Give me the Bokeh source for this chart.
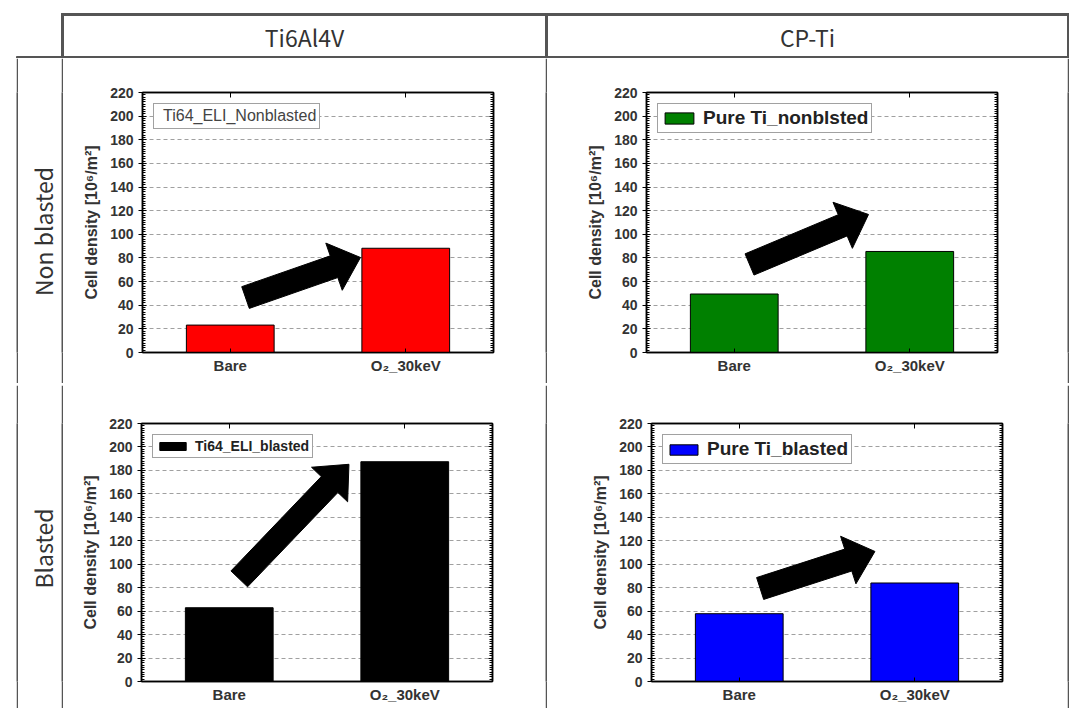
import math
from bokeh.plotting import figure
from bokeh.models import Range1d, FixedTicker, LinearAxis, Legend, LegendItem
from bokeh.layouts import column, row
from bokeh.embed import file_html
from bokeh.resources import INLINE
from bokeh.core.properties import value

# ---------------- data ----------------
categories = ["Bare", "O₂_30keV"]
ti64_nonblasted = [23.2, 88.2]
pureti_nonblasted = [49.5, 85.5]
ti64_blasted = [62.9, 187.4]
pureti_blasted = [57.8, 84.0]
y_ticks = list(range(0, 221, 20))
y_minor_ticks = list(range(0, 221, 2))
col_headers = ["Ti6Al4V", "CP-Ti"]
row_headers = ["Non blasted", "Blasted"]
legend_labels = ["Ti64_ELI_Nonblasted", "Pure Ti_nonblsted", "Ti64_ELI_blasted", "Pure Ti_blasted"]
y_label = "Cell density [10⁶/m²]"
# annotation arrows: tail (x, y) and tip (x, y) in data units
arrow_tl = [(1.087, 46.5), (1.742, 80.4)]
arrow_tr = [(1.087, 74.5), (1.765, 116.8)]
arrow_bl = [(1.057, 87.5), (1.682, 185.2)]
arrow_br = [(1.119, 79.3), (1.773, 110.9)]

LINE = "#555555"
TXT = "#333333"
AX_FONT = "Liberation Sans"
HEAD_FONT = "Noto Sans CJK KR"


def block(w, h, color):
    return figure(width=w, height=h, x_axis_type=None, y_axis_type=None, toolbar_location=None,
                  output_backend="svg", min_border=0, outline_line_color=None,
                  background_fill_color=color, border_fill_color=color)


def arrow_patch(tail, tip, sx, sy, shaft=23.0, head_w=50.0, head_len=28.0):
    x0, y0 = tail[0] * sx, tail[1] * sy
    x1, y1 = tip[0] * sx, tip[1] * sy
    dx, dy = x1 - x0, y1 - y0
    L = math.hypot(dx, dy)
    ux, uy = dx / L, dy / L
    nx, ny = -uy, ux
    w, h = shaft / 2, head_w / 2
    bx, by = x1 - ux * head_len, y1 - uy * head_len
    pts = [(x0 + nx * w, y0 + ny * w), (bx + nx * w, by + ny * w), (bx + nx * h, by + ny * h),
           (x1, y1), (bx - nx * h, by - ny * h), (bx - nx * w, by - ny * w), (x0 - nx * w, y0 - ny * w)]
    return [q[0] / sx for q in pts], [q[1] / sy for q in pts]


def chart(vals, color, label, arrow, lb, fw, rb, tb, fh, bb,
          swatch=True, leg_bold=True, leg_size="18px", gw=36, gh=14, lstand=6, pad=3,
          leg_color="#222222"):
    xs = [i + 1 for i in range(len(categories))]
    p = figure(frame_width=fw, frame_height=fh, min_border_left=lb, min_border_right=rb,
               min_border_top=tb, min_border_bottom=bb,
               x_range=Range1d(0.5, len(categories) + 0.5), y_range=Range1d(y_ticks[0], y_ticks[-1]),
               toolbar_location=None, output_backend="svg",
               background_fill_color="white", border_fill_color="white",
               outline_line_color="black", outline_line_width=1.5)
    p.xgrid.visible = False
    p.ygrid.ticker = FixedTicker(ticks=y_ticks[1:-1])
    p.ygrid.grid_line_color = "#a0a0a0"
    p.ygrid.grid_line_dash = "4 3"
    p.ygrid.grid_line_width = 1

    ya = p.yaxis[0]
    ya.ticker = FixedTicker(ticks=y_ticks, minor_ticks=y_minor_ticks)
    ya.major_tick_in = 4
    ya.major_tick_out = 4
    ya.minor_tick_in = 3
    ya.minor_tick_out = 0
    ya.major_label_standoff = 5
    ya.major_label_text_font = AX_FONT
    ya.major_label_text_font_style = "bold"
    ya.major_label_text_font_size = "14px"
    ya.major_label_text_color = TXT
    ya.axis_label = y_label
    ya.axis_label_text_font = AX_FONT
    ya.axis_label_text_font_style = "bold"
    ya.axis_label_text_font_size = "16px"
    ya.axis_label_text_color = TXT
    ya.axis_label_standoff = 7
    ya.axis_line_width = 1.5

    xa = p.xaxis[0]
    xa.ticker = FixedTicker(ticks=xs)
    xa.major_label_overrides = {x: c for x, c in zip(xs, categories)}
    xa.major_tick_in = 4
    xa.major_tick_out = 0
    xa.minor_tick_in = 0
    xa.minor_tick_out = 0
    xa.major_label_standoff = 4
    xa.major_label_text_font = AX_FONT
    xa.major_label_text_font_style = "bold"
    xa.major_label_text_font_size = "15px"
    xa.major_label_text_color = TXT
    xa.axis_line_width = 1.5

    ra = LinearAxis(ticker=FixedTicker(ticks=y_ticks, minor_ticks=y_minor_ticks),
                    major_label_overrides={t: "" for t in y_ticks},
                    major_tick_in=4, major_tick_out=0, minor_tick_in=3, minor_tick_out=0,
                    major_label_standoff=0, axis_line_width=1.5)
    p.add_layout(ra, "right")
    ta = LinearAxis(ticker=FixedTicker(ticks=xs),
                    major_label_overrides={x: "" for x in xs},
                    major_tick_in=5, major_tick_out=0, minor_tick_in=0, minor_tick_out=0,
                    major_label_standoff=0, axis_line_width=1.5)
    p.add_layout(ta, "above")

    bars = p.vbar(x=xs, top=vals, width=0.5, fill_color=color, line_color="black", line_width=1)

    if swatch:
        leg_r = bars
    else:
        leg_r = p.vbar(x=[], top=[], width=0.5, fill_alpha=0, line_alpha=0)
    leg = Legend(items=[LegendItem(label=label, renderers=[leg_r])], location="top_left",
                 margin=11, padding=pad, spacing=0, glyph_width=gw, glyph_height=gh,
                 label_standoff=lstand, label_height=10,
                 label_text_font=AX_FONT, label_text_font_style="bold" if leg_bold else "normal",
                 label_text_font_size=leg_size, label_text_color=leg_color,
                 border_line_color="#444444", border_line_width=1,
                 background_fill_color="white", background_fill_alpha=1)
    p.add_layout(leg)

    sx = fw / len(categories)
    sy = fh / (y_ticks[-1] - y_ticks[0])
    ax_, ay_ = arrow_patch(arrow[0], arrow[1], sx, sy)
    p.patch(ax_, ay_, fill_color="black", line_color="black", line_width=1)
    return p


def label_cell(text, h, tb, bb, frame_top, frame_bot, ty):
    p = figure(width=43, height=h, x_range=Range1d(18, 61), y_range=Range1d(frame_bot, frame_top),
               x_axis_type=None, y_axis_type=None, toolbar_location=None, output_backend="svg",
               min_border_left=0, min_border_right=0, min_border_top=tb, min_border_bottom=bb,
               outline_line_color=None, background_fill_color="white", border_fill_color="white")
    p.text(x=[42], y=[ty], text=[text], angle=math.pi / 2, text_font=value(HEAD_FONT),
           text_font_size="23px", text_align="center", text_baseline="middle", text_color=TXT)
    return p


# ---------------- header ----------------
hdr = figure(width=1069, height=58, x_range=Range1d(0, 1069), y_range=Range1d(58, 0),
             x_axis_type=None, y_axis_type=None, toolbar_location=None, output_backend="svg",
             min_border=0, outline_line_color=None,
             background_fill_color="white", border_fill_color="white")
hdr.quad(left=[61, 16, 61, 545, 1067], right=[1069, 1069, 63, 547, 1069],
         top=[13, 56, 13, 13, 13], bottom=[15, 58, 58, 58, 58], color=LINE)
hdr.text(x=[304, 807], y=[36, 36], text=col_headers, text_font=value(HEAD_FONT),
         text_font_size="23px", text_align="center", text_baseline="middle", text_color=TXT)

# ---------------- charts ----------------
tl = chart(ti64_nonblasted, "#ff0000", legend_labels[0], arrow_tl, 79, 351, 52, 34, 260, 31,
           swatch=False, leg_bold=False, leg_size="16px", gw=0, gh=12, lstand=6, pad=3,
           leg_color="#444444")
tr = chart(pureti_nonblasted, "#008000", legend_labels[1], arrow_tr, 99, 351, 70, 34, 260, 31,
           leg_size="19px", gw=36, gh=14, lstand=6, pad=3)
bl = chart(ti64_blasted, "#000000", legend_labels[2], arrow_bl, 78, 351, 53, 38, 258, 27,
           leg_size="14px", gw=33, gh=10, lstand=6, pad=3)
br = chart(pureti_blasted, "#0000ff", legend_labels[3], arrow_br, 104, 351, 65, 38, 258, 27,
           leg_size="19px", gw=35, gh=13, lstand=6, pad=3)

lab1 = label_cell(row_headers[0], 325, 34, 31, 92, 352, 231)
lab2 = label_cell(row_headers[1], 323, 38, 27, 423, 681, 548)

row1 = row(block(16, 325, "white"), block(2, 325, LINE), lab1, block(2, 325, LINE),
           tl, block(2, 325, LINE), tr, block(2, 325, LINE))
hline = row(block(16, 2, "white"), block(1053, 2, LINE))
row2 = row(block(16, 323, "white"), block(2, 323, LINE), lab2, block(2, 323, LINE),
           bl, block(2, 323, LINE), br, block(2, 323, LINE))

layout = column(hdr, row1, hline, row2)

open("out.html", "w").write(file_html(layout, INLINE))
